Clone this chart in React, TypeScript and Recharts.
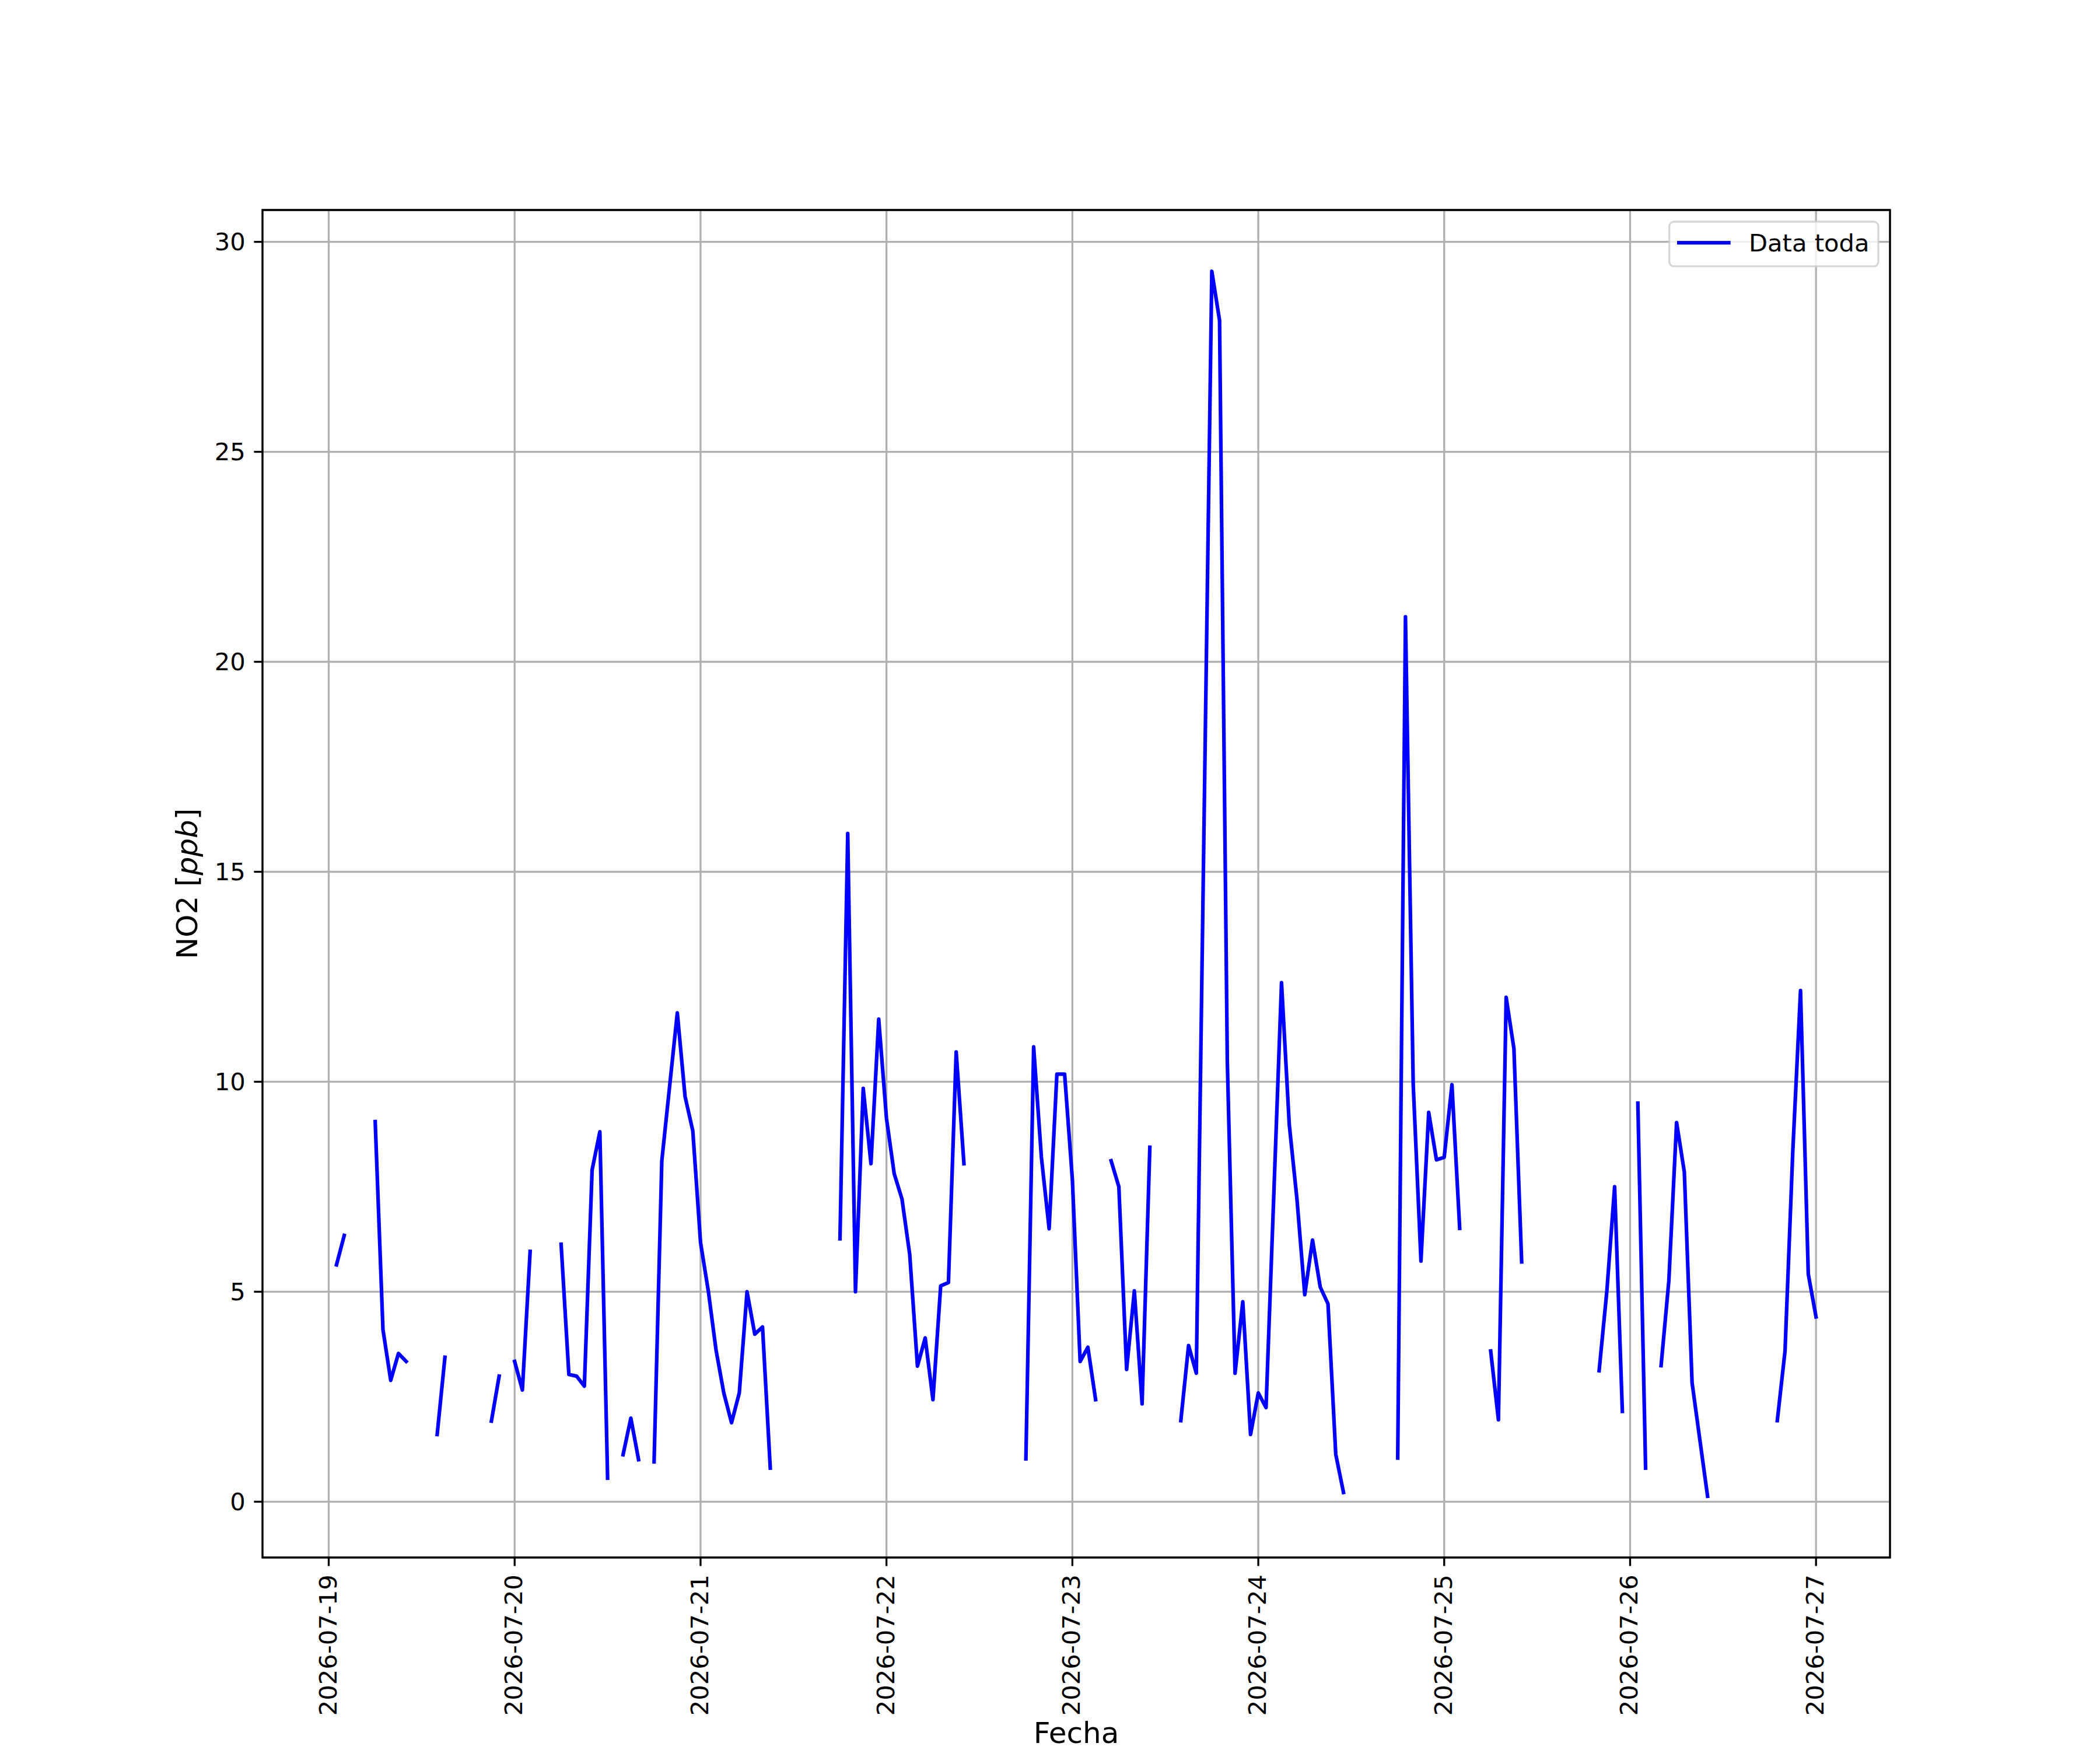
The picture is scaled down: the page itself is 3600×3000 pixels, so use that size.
import { CartesianGrid, Label, Legend, Line, LineChart, ReferenceArea, XAxis, YAxis } from 'recharts';

// hours since 2026-07-19 00:00; null marks a gap in the record
const hours = [
  1, 2, 3,
  6, 7, 8, 9, 10, 11,
  14, 15, 16,
  21, 22, 23,
  24, 25, 26, 27,
  30, 31, 32, 33, 34, 35, 36, 37,
  38, 39, 40, 41,
  42, 43, 44, 45, 46, 47, 48, 49, 50, 51, 52, 53, 54, 55, 56, 57, 58,
  66, 67, 68, 69, 70, 71, 72, 73, 74, 75, 76, 77, 78, 79, 80, 81, 82, 83,
  90, 91, 92, 93, 94, 95, 96, 97, 98, 99, 100,
  101, 102, 103, 104, 105, 106, 107,
  110, 111, 112, 114, 115, 116, 117, 118, 119, 120, 121, 123, 124, 125, 126, 127, 128, 129, 130, 131, 132,
  138, 139, 140, 141, 142, 143, 144, 145, 146, 147,
  150, 151, 152, 153, 154, 155,
  164, 165, 166, 167, 168,
  169, 170, 171,
  172, 173, 174, 175, 176, 178, 179,
  187, 188, 189, 190, 191, 192,
];

const no2 = [
  5.64, 6.34, null,
  9.05, 4.1, 2.89, 3.53, 3.34, null,
  1.6, 3.44, null,
  1.92, 2.99, null,
  3.34, 2.66, 5.96, null,
  6.13, 3.03, 2.99, 2.75, 7.9, 8.81, 0.56, null,
  1.12, 1.99, 1.0, null,
  0.95, 8.12, 9.88, 11.64, 9.65, 8.83, 6.17, 5.02, 3.61, 2.59, 1.88, 2.59, 5.0, 3.99, 4.16, 0.8, null,
  6.26, 15.91, 5.0, 9.84, 8.05, 11.49, 9.13, 7.81, 7.21, 5.89, 3.23, 3.9, 2.43, 5.14, 5.22, 10.71, 8.05, null,
  1.02, 10.83, 8.2, 6.5, 10.18, 10.18, 7.67, 3.34, 3.68, 2.43, null,
  8.12, 7.5, 3.15, 5.02, 2.33, 8.44, null,
  1.93, 3.72, 3.06, 29.3, 28.13, 10.5, 3.06, 4.76, 1.6, 2.59, 2.24, 12.36, 8.98, 7.19, 4.93, 6.23, 5.11, 4.71, 1.13, 0.22, null,
  1.04, 21.07, 9.93, 5.73, 9.27, 8.14, 8.2, 9.93, 6.51, null,
  3.59, 1.95, 12.01, 10.79, 5.71, null,
  3.12, 5.02, 7.5, 2.15, null,
  9.49, 0.8, null,
  3.24, 5.26, 9.03, 7.85, 2.83, 0.13, null,
  1.93, 3.59, 8.34, 12.17, 5.42, 4.4,
];

const dayTicks = [0, 24, 48, 72, 96, 120, 144, 168, 192];
const dayLabels = [
  '2026-07-19', '2026-07-20', '2026-07-21', '2026-07-22', '2026-07-23',
  '2026-07-24', '2026-07-25', '2026-07-26', '2026-07-27',
];
const valueTicks = [0, 5, 10, 15, 20, 25, 30];

const X_DOMAIN: [number, number] = [-8.55, 201.55];
const Y_DOMAIN: [number, number] = [-1.3285, 30.7585];

const FONT = 'DejaVu Sans';
const PT = 300 / 72;

const rows = hours.map((h, i) => ({ h, no2: no2[i] }));

function DateTick({ x, y, payload }: any) {
  return (
    <text
      x={x}
      y={y}
      transform={`rotate(-90, ${x}, ${y})`}
      textAnchor="end"
      dy={13}
      fontSize={10 * PT}
      fontFamily={FONT}
      fill="#000"
    >
      {dayLabels[Math.round(payload.value / 24)]}
    </text>
  );
}

function LegendBox() {
  return (
    <svg width={362} height={80} style={{ display: 'block' }}>
      <rect
        x={1.7}
        y={2}
        width={358.3}
        height={76.7}
        rx={8}
        fill="rgba(255,255,255,0.8)"
        stroke="rgba(204,204,204,0.8)"
        strokeWidth={0.8 * PT}
      />
      <line x1={15} x2={106.7} y1={38} y2={38} stroke="#0000ff" strokeWidth={1.5 * PT} />
      <text x={138} y={52.7} fontSize={10 * PT} fontFamily={FONT} fill="#000">
        Data toda
      </text>
    </svg>
  );
}

export default function App() {
  return (
    <div style={{ position: 'absolute', left: 0, top: 0, width: 3600, height: 3000, background: '#fff' }}>
      <LineChart width={3600} height={3000} data={rows} margin={{ top: 360, right: 360, bottom: 0, left: 0 }}>
        <CartesianGrid stroke="#b0b0b0" strokeWidth={0.8 * PT} />
        <XAxis
          dataKey="h"
          type="number"
          domain={X_DOMAIN}
          allowDataOverflow
          ticks={dayTicks}
          interval={0}
          height={330}
          axisLine={false}
          tickLine={{ stroke: '#000', strokeWidth: 0.8 * PT }}
          tickSize={3.5 * PT}
          tickMargin={3.5 * PT}
          tick={<DateTick />}
        >
          <Label
            content={({ viewBox }: any) => (
              <text
                x={viewBox.x + viewBox.width / 2}
                y={viewBox.y + 318}
                textAnchor="middle"
                fontSize={12 * PT}
                fontFamily={FONT}
                fill="#000"
              >
                Fecha
              </text>
            )}
          />
        </XAxis>
        <YAxis
          type="number"
          domain={Y_DOMAIN}
          allowDataOverflow
          ticks={valueTicks}
          interval={0}
          width={450}
          axisLine={false}
          tickLine={{ stroke: '#000', strokeWidth: 0.8 * PT }}
          tickSize={3.5 * PT}
          tickMargin={3.5 * PT}
          tick={{ fontSize: 10 * PT, fontFamily: FONT, fill: '#000' }}
        >
          <Label
            content={({ viewBox }: any) => {
              const cx = viewBox.x + 338;
              const cy = viewBox.y + viewBox.height / 2;
              return (
                <text
                  x={cx}
                  y={cy}
                  transform={`rotate(-90, ${cx}, ${cy})`}
                  textAnchor="middle"
                  fontSize={12 * PT}
                  fontFamily={FONT}
                  fill="#000"
                >
                  NO2 [<tspan fontStyle="italic">ppb</tspan>]
                </text>
              );
            }}
          />
        </YAxis>
        <ReferenceArea
          x1={X_DOMAIN[0]}
          x2={X_DOMAIN[1]}
          y1={Y_DOMAIN[0]}
          y2={Y_DOMAIN[1]}
          ifOverflow="visible"
          fill="none"
          stroke="#000"
          strokeWidth={0.8 * PT}
        />
        <Line
          type="linear"
          dataKey="no2"
          name="Data toda"
          stroke="#0000ff"
          strokeWidth={1.5 * PT}
          strokeLinejoin="round"
          strokeLinecap="square"
          dot={false}
          activeDot={false}
          connectNulls={false}
          isAnimationActive={false}
        />
        <Legend
          layout="horizontal"
          verticalAlign="middle"
          align="center"
          wrapperStyle={{ left: 2860, top: 378, width: 362, height: 80 }}
          content={() => <LegendBox />}
        />
      </LineChart>
    </div>
  );
}
